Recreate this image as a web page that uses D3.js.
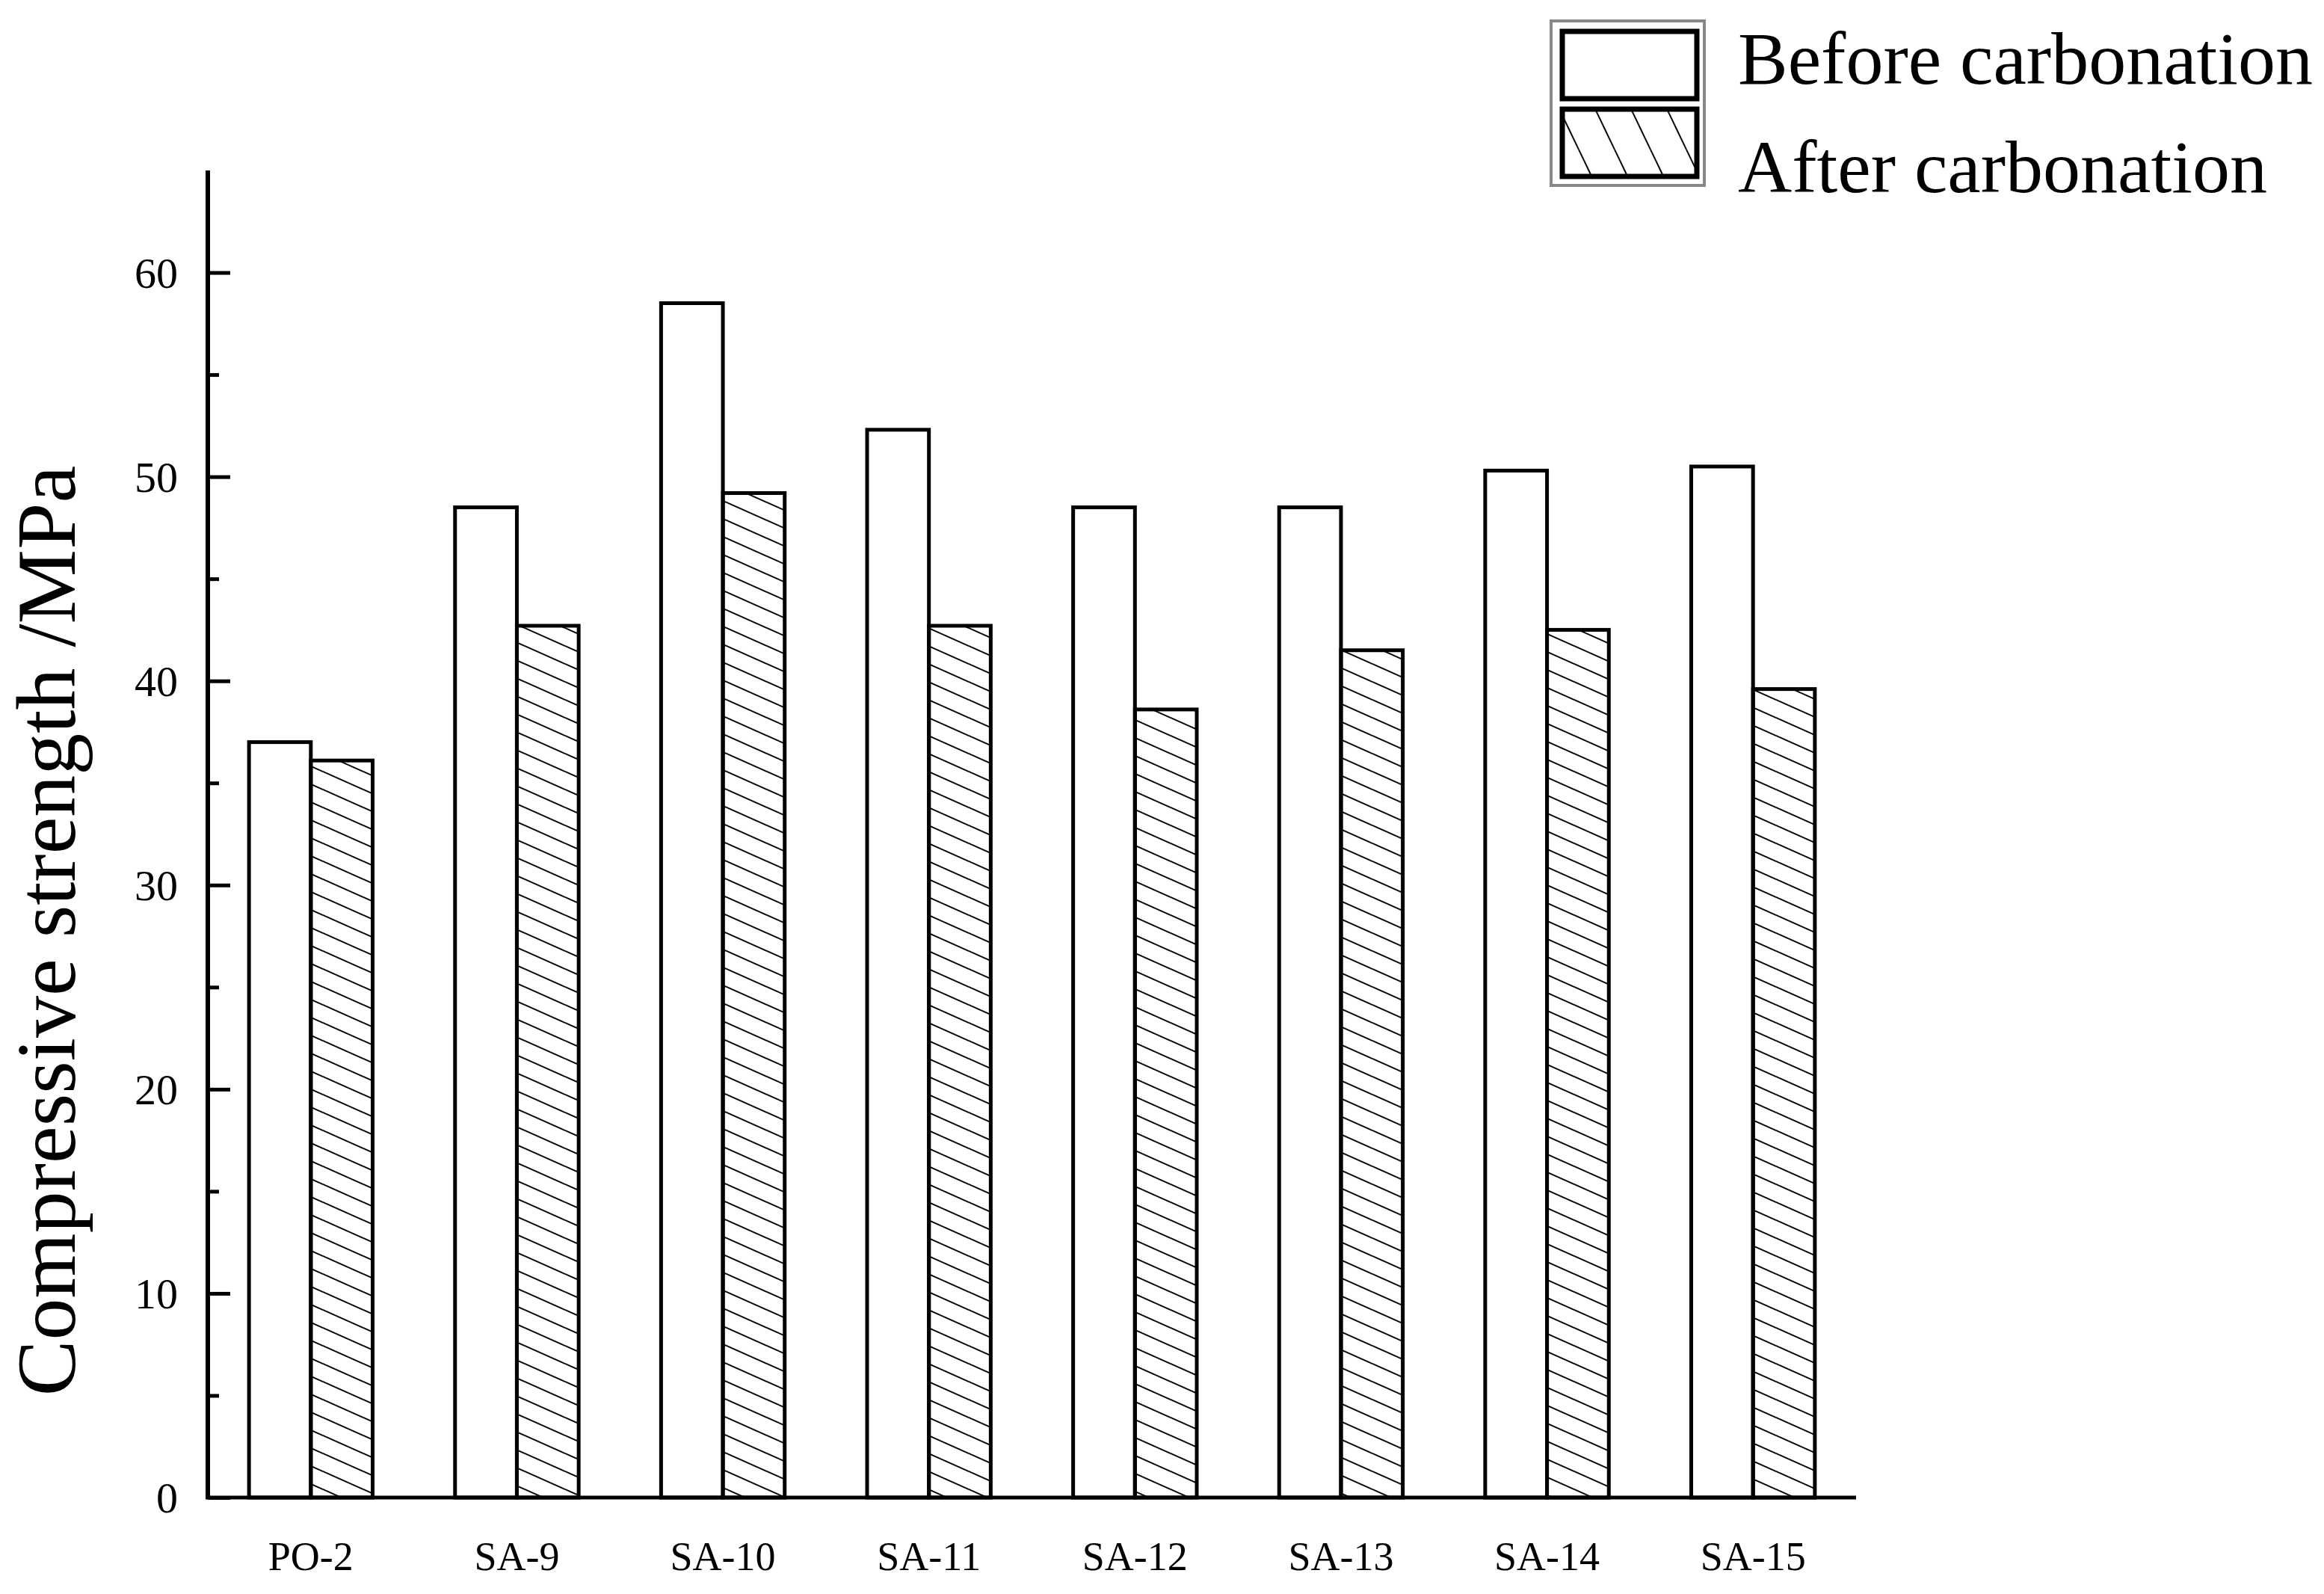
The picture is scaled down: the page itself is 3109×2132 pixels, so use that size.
<!DOCTYPE html>
<html><head><meta charset="utf-8">
<script src="https://cdn.jsdelivr.net/npm/d3@7"></script>
<style>body{margin:0;background:#fff}</style></head>
<body><svg id="c" width="3109" height="2132"></svg>
<script>
const categories=["PO-2","SA-9","SA-10","SA-11","SA-12","SA-13","SA-14","SA-15"];
const before=[37.0,48.5,58.5,52.3,48.5,48.5,50.3,50.5];
const after=[36.1,42.7,49.2,42.7,38.6,41.5,42.5,39.6];
const yTicks=[0,10,20,30,40,50,60];
const seriesNames=["Before carbonation","After carbonation"];

const svg=d3.select("#c");
const F="Liberation Serif, Times New Roman, serif";
const x=d3.scaleBand().domain(categories).range([278,2483]);
const y=d3.scaleLinear().domain([0,65]).range([2003,228]);
const defs=svg.append("defs");
const W=54,H=24;
const p=defs.append("pattern").attr("id","h").attr("patternUnits","userSpaceOnUse").attr("width",W).attr("height",H);
[[0,0,W,H],[-W,0,0,H],[0,-H,W,0],[0,H,W,2*H]].forEach(a=>p.append("line").attr("x1",a[0]).attr("y1",a[1]).attr("x2",a[2]).attr("y2",a[3]).attr("stroke","#000").attr("stroke-width",2));
const pl=defs.append("pattern").attr("id","hl").attr("patternUnits","userSpaceOnUse").attr("width",48).attr("height",100);
[[0,0,48,100],[-48,0,0,100],[48,0,96,100]].forEach(a=>pl.append("line").attr("x1",a[0]).attr("y1",a[1]).attr("x2",a[2]).attr("y2",a[3]).attr("stroke","#000").attr("stroke-width",2));

const bw=x.step()*0.3;
const g=svg.append("g");
categories.forEach((c,i)=>{
  const cx=x(c)+x.bandwidth()/2;
  g.append("rect").attr("x",cx-bw).attr("y",y(before[i])).attr("width",bw).attr("height",y(0)-y(before[i]))
   .attr("fill","#fff").attr("stroke","#000").attr("stroke-width",5);
  g.append("rect").attr("x",cx).attr("y",y(after[i])).attr("width",bw).attr("height",y(0)-y(after[i]))
   .attr("fill","url(#h)").attr("stroke","#000").attr("stroke-width",5);
});
const ya=svg.append("g").attr("transform","translate(278,0)")
 .call(d3.axisRight(y).tickValues(yTicks).tickSize(30).tickFormat(""));
ya.selectAll("line").attr("stroke","#000").attr("stroke-width",5);
ya.select(".domain").remove();
const ym=svg.append("g").attr("transform","translate(278,0)")
 .call(d3.axisRight(y).tickValues(d3.range(5,65,10)).tickSize(15).tickFormat(""));
ym.selectAll("line").attr("stroke","#000").attr("stroke-width",5);
ym.select(".domain").remove();
svg.append("line").attr("x1",278).attr("x2",278).attr("y1",228).attr("y2",2005).attr("stroke","#000").attr("stroke-width",6);
svg.append("line").attr("x1",275).attr("x2",2483).attr("y1",2003).attr("y2",2003).attr("stroke","#000").attr("stroke-width",5);
svg.selectAll(".yl").data(yTicks).enter().append("text").attr("x",238).attr("y",d=>y(d)+20)
 .attr("text-anchor","end").attr("font-family",F).attr("font-size",58).text(d=>d);
svg.selectAll(".xl").data(categories).enter().append("text").attr("x",d=>x(d)+x.bandwidth()/2).attr("y",2100)
 .attr("text-anchor","middle").attr("font-family",F).attr("font-size",54).text(d=>d);
svg.append("text").attr("transform","translate(100,1245) rotate(-90)").attr("text-anchor","middle")
 .attr("font-family",F).attr("font-size",112).text("Compressive strength /MPa");
svg.append("rect").attr("x",2075).attr("y",28).attr("width",205).attr("height",220).attr("fill","none").attr("stroke","#888").attr("stroke-width",4);
svg.append("rect").attr("x",2090).attr("y",42).attr("width",180).attr("height",90).attr("fill","#fff").attr("stroke","#000").attr("stroke-width",7);
svg.append("rect").attr("x",2090).attr("y",146).attr("width",180).attr("height",90).attr("fill","url(#hl)").attr("stroke","#000").attr("stroke-width",7);
svg.selectAll(".lg").data(seriesNames).enter().append("text").attr("x",2325).attr("y",(d,i)=>112+i*145)
 .attr("font-family",F).attr("font-size",100).text(d=>d);
</script></body></html>
